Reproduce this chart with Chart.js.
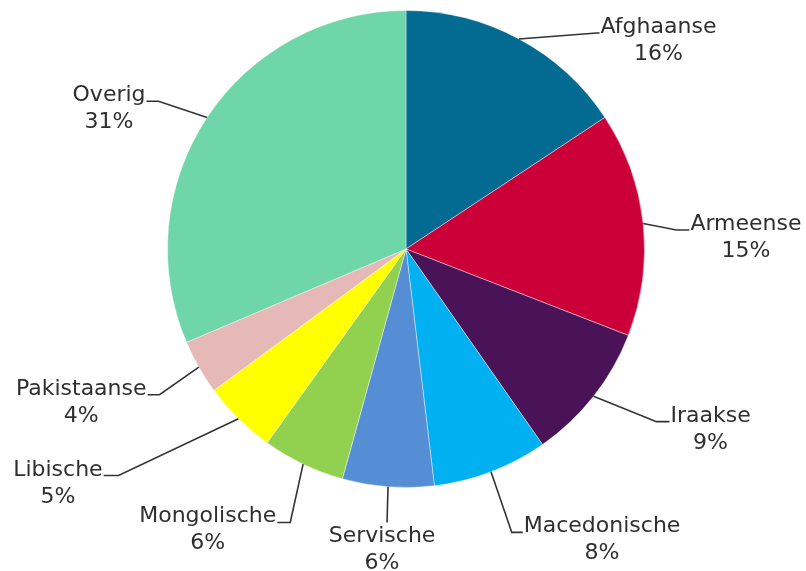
<!DOCTYPE html>
<html>
<head>
<meta charset="utf-8">
<script src="https://cdn.jsdelivr.net/npm/chart.js@4.4.1/dist/chart.umd.min.js"></script>
<style>
  html, body { margin: 0; padding: 0; background: #fff; }
  #wrap { width: 806px; height: 571px; position: relative; }
</style>
</head>
<body>
<div id="wrap"><canvas id="pie"></canvas></div>
<script>
const categories = ['Afghaanse', 'Armeense', 'Iraakse', 'Macedonische', 'Servische',
  'Mongolische', 'Libische', 'Pakistaanse', 'Overig'];
const shares = [15.7, 15.2, 9.4, 7.8, 6.2, 5.6, 5.0, 3.7, 31.4];
const sliceColors = ['#036a92', '#cc0039', '#4a1257', '#00b0f0', '#558ed5',
  '#92d050', '#ffff00', '#e6b9b8', '#6fd6aa'];

// label spots relative to pie center, in px for a 239px radius:
// [elbowX, elbowY, textX, side]
const labelSpots = [
  [191, -216.5, 194, 'right'],
  [271, -19, 284, 'right'],
  [251, 173, 264, 'right'],
  [106, 284, 117, 'right'],
  [-19, 274, -24, 'below'],
  [-116, 274, -129, 'left'],
  [-288, 227, -303, 'left'],
  [-247, 146, -259, 'left'],
  [-248, -148, -260, 'left']
];

const leaderLabels = {
  id: 'leaderLabels',
  afterDatasetsDraw(chart) {
    const ctx = chart.ctx;
    const meta = chart.getDatasetMeta(0);
    ctx.save();
    ctx.font = '22px "DejaVu Sans", Verdana, sans-serif';
    ctx.fillStyle = '#2f2f2f';
    ctx.strokeStyle = '#333';
    ctx.lineWidth = 1.6;
    meta.data.forEach((arc, i) => {
      const p = arc.getProps(['x', 'y', 'startAngle', 'endAngle', 'outerRadius'], true);
      const mid = (p.startAngle + p.endAngle) / 2;
      const s = p.outerRadius / 239;
      const ax = p.x + Math.cos(mid) * p.outerRadius;
      const ay = p.y + Math.sin(mid) * p.outerRadius;
      const [ex, ey, tx, side] = labelSpots[i];
      const bx = p.x + ex * s, by = p.y + ey * s, cx = p.x + tx * s;
      const name = categories[i];
      const pct = Math.round(shares[i]) + '%';

      ctx.beginPath();
      ctx.moveTo(ax, ay);
      ctx.lineTo(bx, by);
      if (side !== 'below') ctx.lineTo(cx, by);
      ctx.stroke();

      const w = ctx.measureText(name).width;
      let center, base;
      if (side === 'right') {
        center = cx + 1 + w / 2;
        base = by;
      } else if (side === 'left') {
        center = cx - 1 - w / 2;
        base = by;
      } else {
        center = cx;
        base = by + 20;
      }
      ctx.textAlign = 'center';
      ctx.textBaseline = 'alphabetic';
      ctx.fillText(name, center, base);
      ctx.fillText(pct, center, base + 27);
    });
    ctx.restore();
  }
};

new Chart(document.getElementById('pie'), {
  type: 'pie',
  data: {
    labels: categories,
    datasets: [{
      data: shares,
      backgroundColor: sliceColors,
      borderColor: 'rgba(255,255,255,0.4)',
      borderWidth: 1
    }]
  },
  options: {
    responsive: true,
    maintainAspectRatio: false,
    animation: false,
    layout: { padding: { top: 10, bottom: 83, left: 100, right: 94 } },
    plugins: {
      legend: { display: false },
      tooltip: { enabled: false }
    }
  },
  plugins: [leaderLabels]
});
</script>
</body>
</html>
